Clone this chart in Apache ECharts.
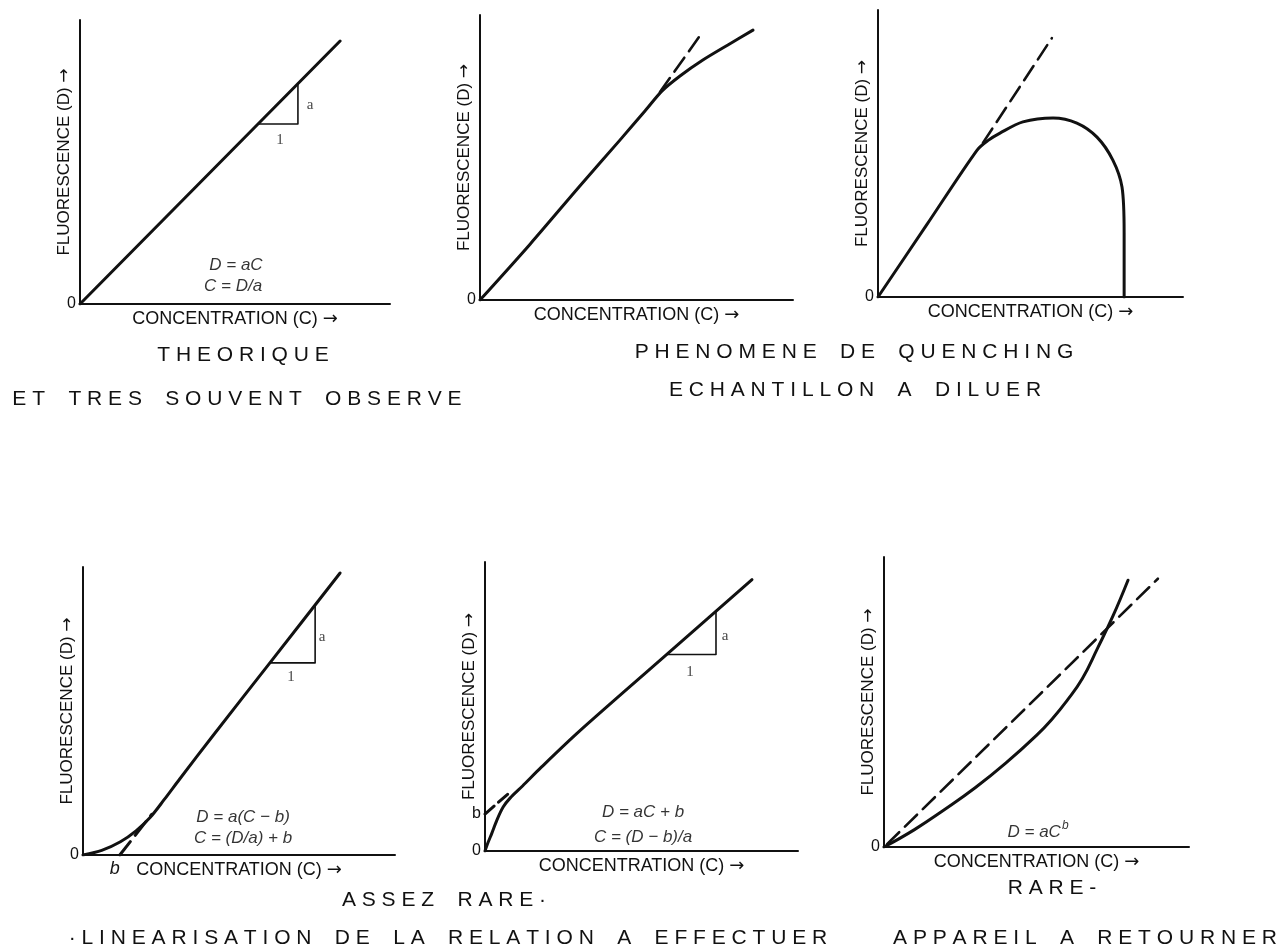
<!DOCTYPE html>
<html>
<head>
<meta charset="utf-8">
<script src="https://cdn.jsdelivr.net/npm/echarts@6/dist/echarts.min.js"></script>
<style>
  html, body { margin: 0; padding: 0; background: #ffffff; }
  #chart { width: 1281px; height: 950px; }
</style>
</head>
<body>
<div id="chart"></div>
<script>
// ---------- axis texts ----------
const axisNameC = 'CONCENTRATION (C) →';
const axisNameD = 'FLUORESCENCE (D) →';
const originTick = '0';
const interceptTick = 'b';

// ---------- 1. theoretical straight line D = aC ----------
const linearCurve = [[0, 0], [8.39, 9.26]];
const linearStep = [[5.74, 6.34], [7.03, 6.34], [7.03, 7.76]];

// ---------- 2. mild quenching: curve bends away from the tangent ----------
const mildCurve = [[0, 0], [1.6, 1.96], [3.19, 4.0], [4.47, 5.61], [5.27, 6.63], [5.81, 7.33], [6.39, 7.86],
                   [7.12, 8.42], [7.92, 8.95], [8.72, 9.47]];
const mildTangent = [[5.75, 7.3], [7.09, 9.37]];

// ---------- 3. strong quenching: response rises, peaks, collapses ----------
const strongCurve = [[0, 0], [1.6, 2.52], [3.25, 5.12], [3.6, 5.45], [4.0, 5.71], [4.75, 6.10], [5.74, 6.24],
                     [6.52, 6.06], [7.18, 5.57], [7.70, 4.77], [8.0, 3.83], [8.07, 2.23], [8.07, 0]];
const strongTangent = [[3.44, 5.37], [5.70, 9.02]];

// ---------- 4. D = a(C - b): intercept on the concentration axis ----------
const bOnC = 1.18;
const lagCurve = [[0, 0], [0.6, 0.16], [1.2, 0.46], [1.7, 0.84], [2.15, 1.3], [2.6, 1.92], [3.1, 2.64],
                  [4.17, 4.15], [5.99, 6.67], [8.24, 9.79]];
const lagTangent = [[bOnC, 0], [2.2, 1.41]];
const lagStep = [[5.99, 6.67], [7.44, 6.67], [7.44, 8.68]];

// ---------- 5. D = aC + b: intercept on the fluorescence axis ----------
const bOnD = 1.28;
const offsetCurve = [[0, 0], [0.1, 0.3], [0.22, 0.62], [0.38, 1.07], [0.58, 1.52], [0.8, 1.83], [1.2, 2.25],
                     [1.8, 2.9], [3, 4.13], [5.69, 6.69], [8.53, 9.39]];
const offsetTangent = [[0, bOnD], [0.75, 1.99]];
const offsetStep = [[5.81, 6.80], [7.38, 6.80], [7.38, 8.29]];

// ---------- 6. power law D = aC^b against a straight fit ----------
const powerCurve = [[0, 0], [1, 0.6], [2, 1.3], [3, 2.05], [4, 2.9], [5, 3.85], [5.5, 4.4], [6, 5.05],
                    [6.5, 5.8], [7, 6.85], [7.5, 7.95], [8, 9.2]];
const powerFit = [[0.1, 0.1], [8.98, 9.25]];

// ---------- in-plot notes: [C, D, text] ----------
const notes1 = [[7.42, 7.0, 'a'], [6.45, 5.77, '1']];
const formulas1 = [[5.03, 1.37, 'D = aC'], [4.94, 0.63, 'C = D/a']];
const notes4 = [[7.66, 7.57, 'a'], [6.67, 6.18, '1']];
const formulas4 = [[5.13, 1.32, 'D = a(C − b)'], [5.13, 0.59, 'C = (D/a) + b']];
const notes5 = [[7.67, 7.44, 'a'], [6.55, 6.19, '1']];
const formulas5 = [[5.05, 1.33, 'D = aC + b'], [5.05, 0.47, 'C = (D − b)/a']];
const formulas6 = [[5.05, 0.52, 'D = aC', 'b']];

// ---------- captions ----------
const captions = [
  { text: 'THEORIQUE', x: 243, y: 355 },
  { text: 'ET TRES SOUVENT OBSERVE', x: 237, y: 399 },
  { text: 'PHENOMENE DE QUENCHING', x: 854, y: 352 },
  { text: 'ECHANTILLON A DILUER', x: 855, y: 390 },
  { text: 'ASSEZ RARE·', x: 444, y: 900 },
  { text: '·LINEARISATION DE LA RELATION A EFFECTUER', x: 448, y: 938 },
  { text: 'RARE-', x: 1052, y: 888 },
  { text: 'APPAREIL A RETOURNER', x: 1085, y: 938 }
];

// ---------- layout of the six frames (pixels) ----------
const frames = [
  { left: 80,  top: 20,  width: 310, height: 284 },
  { left: 480, top: 15,  width: 313, height: 285 },
  { left: 878, top: 10,  width: 305, height: 287 },
  { left: 83,  top: 567, width: 312, height: 288 },
  { left: 485, top: 562, width: 313, height: 289 },
  { left: 884, top: 557, width: 305, height: 290 }
];

const INK = '#111111';
const SANS = '"Liberation Sans", Arial, sans-serif';
const ARROW_FONT = '"DejaVu Sans", sans-serif';
const dash = [17, 8];

function spread(s) {
  return s.split(' ').map(w => w.split('').join(' ')).join('    ');
}
function withArrow(s) {
  return s.replace('→', '{arr|→}');
}

const xAxes = frames.map((f, i) => {
  const ax = {
    type: 'value', gridIndex: i, min: 0, max: 10,
    axisLine: { lineStyle: { color: INK, width: 2 } },
    axisTick: { show: false }, splitLine: { show: false },
    axisLabel: { show: false },
    name: withArrow(axisNameC), nameLocation: 'middle', nameGap: 6, nameMoveOverlap: false,
    nameTextStyle: {
      color: INK, fontFamily: SANS, fontSize: 18,
      rich: { arr: { fontFamily: ARROW_FONT, fontSize: 18, color: INK } }
    }
  };
  if (i === 3) {
    ax.axisLabel = {
      show: true, customValues: [bOnC], formatter: () => interceptTick,
      color: INK, fontFamily: SANS, fontStyle: 'italic', fontSize: 18, margin: 5, align: 'right'
    };
  }
  return ax;
});

const yAxes = frames.map((f, i) => ({
  type: 'value', gridIndex: i, min: 0, max: 10,
  axisLine: { lineStyle: { color: INK, width: 2 } },
  axisTick: { show: false }, splitLine: { show: false },
  axisLabel: {
    show: true,
    customValues: i === 4 ? [0, bOnD] : [0],
    formatter: v => (v === 0 ? originTick : interceptTick),
    color: INK, fontFamily: SANS, fontSize: 16, margin: 4
  },
  name: withArrow(axisNameD), nameLocation: 'middle', nameRotate: 90, nameGap: 7, nameMoveOverlap: false,
  nameTextStyle: {
    color: INK, fontFamily: SANS, fontSize: 17,
    rich: { arr: { fontFamily: ARROW_FONT, fontSize: 17, color: INK } }
  }
}));

function curve(i, data, opts) {
  opts = opts || {};
  return {
    type: 'line', xAxisIndex: i, yAxisIndex: i, data: data,
    showSymbol: false, symbol: 'none', silent: true, animation: false,
    smooth: opts.smooth || false,
    lineStyle: { color: INK, width: opts.width || 3, type: opts.type || 'solid', cap: 'round', join: 'round' }
  };
}

function textMarks(i, data, style) {
  return {
    type: 'scatter', xAxisIndex: i, yAxisIndex: i, data: data,
    symbolSize: 0, silent: true, animation: false,
    label: Object.assign({
      show: true, position: 'inside', color: INK,
      formatter: p => p.data[2]
    }, style)
  };
}

const stepNote = { fontFamily: '"Liberation Serif", serif', fontSize: 15 };
const formulaNote = { fontFamily: SANS, fontStyle: 'italic', fontSize: 17, color: '#000000' };

const series = [
  curve(0, linearCurve),
  curve(0, linearStep, { width: 1.6 }),
  textMarks(0, notes1, stepNote),
  textMarks(0, formulas1, formulaNote),

  curve(1, mildCurve, { smooth: 0.3 }),
  curve(1, mildTangent, { type: dash, width: 2.6 }),

  curve(2, strongCurve, { smooth: 0.3 }),
  curve(2, strongTangent, { type: dash, width: 2.6 }),

  curve(3, lagCurve, { smooth: 0.3 }),
  curve(3, lagTangent, { type: dash, width: 3 }),
  curve(3, lagStep, { width: 1.6 }),
  textMarks(3, notes4, stepNote),
  textMarks(3, formulas4, formulaNote),

  curve(4, offsetCurve, { smooth: 0.3 }),
  curve(4, offsetTangent, { type: [12, 6], width: 3 }),
  curve(4, offsetStep, { width: 1.6 }),
  textMarks(4, notes5, stepNote),
  textMarks(4, formulas5, formulaNote),

  curve(5, powerCurve, { smooth: 0.45 }),
  curve(5, powerFit, { type: dash, width: 2.6 }),
  textMarks(5, formulas6, {
    formatter: p => '{m|' + p.data[2] + '}{s|' + p.data[3] + '}',
    rich: {
      m: { fontFamily: SANS, fontStyle: 'italic', fontSize: 17, color: '#000000' },
      s: { fontFamily: SANS, fontStyle: 'italic', fontSize: 12, color: '#000000', padding: [0, 0, 12, 1] }
    }
  })
];

const graphic = captions.map(c => ({
  type: 'text', x: c.x, y: c.y, silent: true,
  style: {
    text: spread(c.text), fill: INK, font: '21px ' + SANS,
    align: 'center', verticalAlign: 'middle'
  }
}));

const chart = echarts.init(document.getElementById('chart'), null, { renderer: 'canvas' });
chart.setOption({
  backgroundColor: '#ffffff',
  animation: false,
  grid: frames.map(f => Object.assign({ containLabel: false }, f)),
  xAxis: xAxes,
  yAxis: yAxes,
  series: series,
  graphic: graphic
});
</script>
</body>
</html>
